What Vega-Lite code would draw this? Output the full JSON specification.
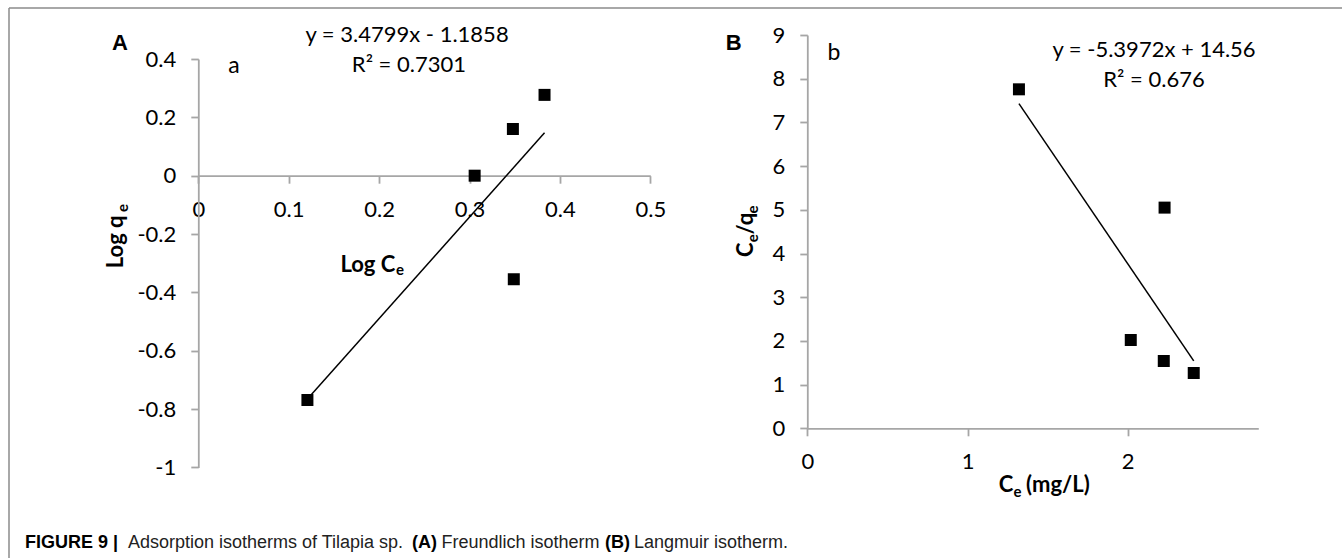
{
  "$schema": "https://vega.github.io/schema/vega-lite/v6.json",
  "width": 1333,
  "height": 550,
  "autosize": {"type": "none"},
  "padding": {"left": 9, "top": 8, "right": 0, "bottom": 0},
  "background": "white",
  "view": {"stroke": "#8c8c8c", "strokeWidth": 1.5, "strokeDash": [1333, 1883, 550, 0], "fill": "white"},
  "datasets": {
    "freundlich": [
      {"logCe": 0.1207, "logqe": -0.769},
      {"logCe": 0.3057, "logqe": 0.0},
      {"logCe": 0.348, "logqe": 0.16},
      {"logCe": 0.383, "logqe": 0.277},
      {"logCe": 0.349, "logqe": -0.355}
    ],
    "freundlichFit": [
      {"logCe": 0.1207, "logqe": -0.7658},
      {"logCe": 0.383, "logqe": 0.147}
    ],
    "langmuir": [
      {"Ce": 1.321, "ratio": 7.757},
      {"Ce": 2.019, "ratio": 2.02},
      {"Ce": 2.23, "ratio": 5.05},
      {"Ce": 2.225, "ratio": 1.54},
      {"Ce": 2.412, "ratio": 1.265}
    ],
    "langmuirFit": [
      {"Ce": 1.321, "ratio": 7.43},
      {"Ce": 2.412, "ratio": 1.542}
    ],
    "one": [{}]
  },
  "config": {
    "axis": {
      "domainColor": "#a6a6a6",
      "domainWidth": 1.8,
      "tickColor": "#a6a6a6",
      "tickWidth": 1.8,
      "tickSize": 7.5,
      "labelFont": "Lato",
      "labelFontSize": 22,
      "labelColor": "#000000",
      "grid": false,
      "labelFlush": false,
      "labelOverlap": false,
      "labelBound": false,
      "format": "~g",
      "labelExpr": "replace(datum.label, '−', '-')",
      "title": null
    },
    "axisX": {"labelPadding": 16},
    "axisY": {"labelPadding": 15},
    "text": {"color": "#000000", "font": "Lato"}
  },
  "resolve": {
    "scale": {"x": "independent", "y": "independent"},
    "axis": {"x": "independent", "y": "independent"}
  },
  "layer": [
    {
      "layer": [
        {
          "data": {"name": "freundlich"},
          "mark": {"type": "square", "size": 144, "color": "#000000", "opacity": 1},
          "encoding": {
            "x": {
              "field": "logCe", "type": "quantitative",
              "scale": {"domain": [0, 0.5], "range": [189.3, 641.3], "nice": false, "zero": false},
              "axis": {
                "orient": "bottom", "offset": -382.3,
                "values": [0, 0.1, 0.2, 0.3, 0.4, 0.5],
                "format": "~g", "title": null
              }
            },
            "y": {
              "field": "logqe", "type": "quantitative",
              "scale": {"domain": [-1, 0.4], "range": [459.4, 51.0], "nice": false, "zero": false},
              "axis": {
                "orient": "left", "offset": -189.3,
                "values": [-1, -0.8, -0.6, -0.4, -0.2, 0, 0.2, 0.4],
                "format": "~g",
                "labelExpr": "replace(datum.label, '−', '-')",
                "title": null
              }
            }
          }
        },
        {
          "data": {"name": "freundlichFit"},
          "mark": {"type": "line", "color": "#000000", "strokeWidth": 1.5},
          "encoding": {
            "x": {"field": "logCe", "type": "quantitative"},
            "y": {"field": "logqe", "type": "quantitative"}
          }
        },
        {
          "data": {"name": "one"},
          "mark": {"type": "text", "font": "Lato", "fontWeight": "bold", "fontSize": 22, "align": "left", "baseline": "alphabetic"},
          "encoding": {"x": {"datum": 0.1572, "type": "quantitative"}, "y": {"datum": -0.3291, "type": "quantitative"}, "text": {"value": "Log C"}}
        },
        {
          "data": {"name": "one"},
          "mark": {"type": "text", "font": "Lato", "fontWeight": "bold", "fontSize": 15, "align": "left", "baseline": "alphabetic"},
          "encoding": {"x": {"datum": 0.2187, "type": "quantitative"}, "y": {"datum": -0.3421, "type": "quantitative"}, "text": {"value": "e"}}
        },
        {
          "data": {"name": "one"},
          "mark": {"type": "text", "font": "Lato", "fontWeight": "bold", "fontSize": 22, "align": "left", "baseline": "alphabetic", "angle": 270},
          "encoding": {"x": {"datum": -0.0836, "type": "quantitative"}, "y": {"datum": -0.3174, "type": "quantitative"}, "text": {"value": "Log q"}}
        },
        {
          "data": {"name": "one"},
          "mark": {"type": "text", "font": "Lato", "fontWeight": "bold", "fontSize": 15, "align": "left", "baseline": "alphabetic", "angle": 270},
          "encoding": {"x": {"datum": -0.0778, "type": "quantitative"}, "y": {"datum": -0.1244, "type": "quantitative"}, "text": {"value": "e"}}
        },
        {
          "data": {"name": "one"},
          "mark": {"type": "text", "font": "Liberation Sans", "fontWeight": "bold", "fontSize": 22, "align": "center", "baseline": "middle"},
          "encoding": {"x": {"datum": -0.0866, "type": "quantitative"}, "y": {"datum": 0.454, "type": "quantitative"}, "text": {"value": "A"}}
        },
        {
          "data": {"name": "one"},
          "mark": {"type": "text", "fontSize": 23, "align": "center", "baseline": "middle"},
          "encoding": {"x": {"datum": 0.0395, "type": "quantitative"}, "y": {"datum": 0.375, "type": "quantitative"}, "text": {"value": "a"}}
        },
        {
          "data": {"name": "one"},
          "mark": {"type": "text", "fontSize": 22, "align": "center", "baseline": "middle"},
          "encoding": {"x": {"datum": 0.2309, "type": "quantitative"}, "y": {"datum": 0.4814, "type": "quantitative"}, "text": {"value": "y = 3.4799x - 1.1858"}}
        },
        {
          "data": {"name": "one"},
          "mark": {"type": "text", "fontSize": 22, "align": "center", "baseline": "middle"},
          "encoding": {"x": {"datum": 0.233, "type": "quantitative"}, "y": {"datum": 0.3795, "type": "quantitative"}, "text": {"value": "R² = 0.7301"}}
        },
        {
          "data": {"name": "one"},
          "mark": {"type": "text", "font": "Liberation Sans", "fontWeight": "bold", "fontSize": 18, "align": "left", "baseline": "middle"},
          "encoding": {"x": {"datum": -0.1917, "type": "quantitative"}, "y": {"datum": -1.2592, "type": "quantitative"}, "text": {"value": "FIGURE 9 |"}}
        },
        {
          "data": {"name": "one"},
          "mark": {"type": "text", "font": "Liberation Sans", "fontSize": 18, "align": "left", "baseline": "middle", "color": "#222222"},
          "encoding": {"x": {"datum": -0.0778, "type": "quantitative"}, "y": {"datum": -1.2592, "type": "quantitative"}, "text": {"value": "Adsorption isotherms of Tilapia sp."}}
        },
        {
          "data": {"name": "one"},
          "mark": {"type": "text", "font": "Liberation Sans", "fontWeight": "bold", "fontSize": 18, "align": "left", "baseline": "middle"},
          "encoding": {"x": {"datum": 0.2364, "type": "quantitative"}, "y": {"datum": -1.2592, "type": "quantitative"}, "text": {"value": "(A)"}}
        },
        {
          "data": {"name": "one"},
          "mark": {"type": "text", "font": "Liberation Sans", "fontSize": 18, "align": "left", "baseline": "middle", "color": "#222222"},
          "encoding": {"x": {"datum": 0.269, "type": "quantitative"}, "y": {"datum": -1.2592, "type": "quantitative"}, "text": {"value": "Freundlich isotherm"}}
        },
        {
          "data": {"name": "one"},
          "mark": {"type": "text", "font": "Liberation Sans", "fontWeight": "bold", "fontSize": 18, "align": "left", "baseline": "middle"},
          "encoding": {"x": {"datum": 0.4499, "type": "quantitative"}, "y": {"datum": -1.2592, "type": "quantitative"}, "text": {"value": "(B)"}}
        },
        {
          "data": {"name": "one"},
          "mark": {"type": "text", "font": "Liberation Sans", "fontSize": 18, "align": "left", "baseline": "middle", "color": "#222222"},
          "encoding": {"x": {"datum": 0.482, "type": "quantitative"}, "y": {"datum": -1.2592, "type": "quantitative"}, "text": {"value": "Langmuir isotherm."}}
        }
      ]
    },
    {
      "layer": [
        {
          "data": {"name": "langmuir"},
          "mark": {"type": "square", "size": 144, "color": "#000000", "opacity": 1},
          "encoding": {
            "x": {
              "field": "Ce", "type": "quantitative",
              "scale": {"domain": [0, 2.815], "range": [798.3, 1249.3], "nice": false, "zero": false},
              "axis": {
                "orient": "bottom", "offset": -129.7,
                "values": [0, 1, 2],
                "format": "~g", "title": null
              }
            },
            "y": {
              "field": "ratio", "type": "quantitative",
              "scale": {"domain": [0, 9], "range": [420.3, 27], "nice": false, "zero": false},
              "axis": {
                "orient": "left", "offset": -798.3,
                "values": [0, 1, 2, 3, 4, 5, 6, 7, 8, 9],
                "format": "~g", "title": null
              }
            }
          }
        },
        {
          "data": {"name": "langmuirFit"},
          "mark": {"type": "line", "color": "#000000", "strokeWidth": 1.5},
          "encoding": {
            "x": {"field": "Ce", "type": "quantitative"},
            "y": {"field": "ratio", "type": "quantitative"}
          }
        },
        {
          "data": {"name": "one"},
          "mark": {"type": "text", "font": "Lato", "fontWeight": "bold", "fontSize": 22, "align": "left", "baseline": "alphabetic"},
          "encoding": {"x": {"datum": 1.1948, "type": "quantitative"}, "y": {"datum": -1.4508, "type": "quantitative"}, "text": {"value": "C"}}
        },
        {
          "data": {"name": "one"},
          "mark": {"type": "text", "font": "Lato", "fontWeight": "bold", "fontSize": 15, "align": "left", "baseline": "alphabetic"},
          "encoding": {"x": {"datum": 1.2871, "type": "quantitative"}, "y": {"datum": -1.5652, "type": "quantitative"}, "text": {"value": "e"}}
        },
        {
          "data": {"name": "one"},
          "mark": {"type": "text", "font": "Lato", "fontWeight": "bold", "fontSize": 22, "align": "left", "baseline": "alphabetic"},
          "encoding": {"x": {"datum": 1.3652, "type": "quantitative"}, "y": {"datum": -1.4508, "type": "quantitative"}, "text": {"value": "(mg/L)"}}
        },
        {
          "data": {"name": "one"},
          "mark": {"type": "text", "font": "Lato", "fontWeight": "bold", "fontSize": 22, "align": "left", "baseline": "alphabetic", "angle": 270},
          "encoding": {"x": {"datum": -0.339, "type": "quantitative"}, "y": {"datum": 3.92, "type": "quantitative"}, "text": {"value": "C"}}
        },
        {
          "data": {"name": "one"},
          "mark": {"type": "text", "font": "Lato", "fontWeight": "bold", "fontSize": 15, "align": "left", "baseline": "alphabetic", "angle": 270},
          "encoding": {"x": {"datum": -0.3077, "type": "quantitative"}, "y": {"datum": 4.256, "type": "quantitative"}, "text": {"value": "e"}}
        },
        {
          "data": {"name": "one"},
          "mark": {"type": "text", "font": "Lato", "fontWeight": "bold", "fontSize": 22, "align": "left", "baseline": "alphabetic", "angle": 270},
          "encoding": {"x": {"datum": -0.339, "type": "quantitative"}, "y": {"datum": 4.435, "type": "quantitative"}, "text": {"value": "/q"}}
        },
        {
          "data": {"name": "one"},
          "mark": {"type": "text", "font": "Lato", "fontWeight": "bold", "fontSize": 15, "align": "left", "baseline": "alphabetic", "angle": 270},
          "encoding": {"x": {"datum": -0.3077, "type": "quantitative"}, "y": {"datum": 4.915, "type": "quantitative"}, "text": {"value": "e"}}
        },
        {
          "data": {"name": "one"},
          "mark": {"type": "text", "font": "Liberation Sans", "fontWeight": "bold", "fontSize": 22, "align": "center", "baseline": "middle"},
          "encoding": {"x": {"datum": -0.459, "type": "quantitative"}, "y": {"datum": 8.817, "type": "quantitative"}, "text": {"value": "B"}}
        },
        {
          "data": {"name": "one"},
          "mark": {"type": "text", "fontSize": 23, "align": "center", "baseline": "middle"},
          "encoding": {"x": {"datum": 0.167, "type": "quantitative"}, "y": {"datum": 8.588, "type": "quantitative"}, "text": {"value": "b"}}
        },
        {
          "data": {"name": "one"},
          "mark": {"type": "text", "fontSize": 22, "align": "center", "baseline": "middle"},
          "encoding": {"x": {"datum": 2.164, "type": "quantitative"}, "y": {"datum": 8.65, "type": "quantitative"}, "text": {"value": "y = -5.3972x + 14.56"}}
        },
        {
          "data": {"name": "one"},
          "mark": {"type": "text", "fontSize": 22, "align": "center", "baseline": "middle"},
          "encoding": {"x": {"datum": 2.164, "type": "quantitative"}, "y": {"datum": 7.963, "type": "quantitative"}, "text": {"value": "R² = 0.676"}}
        }
      ]
    }
  ]
}
